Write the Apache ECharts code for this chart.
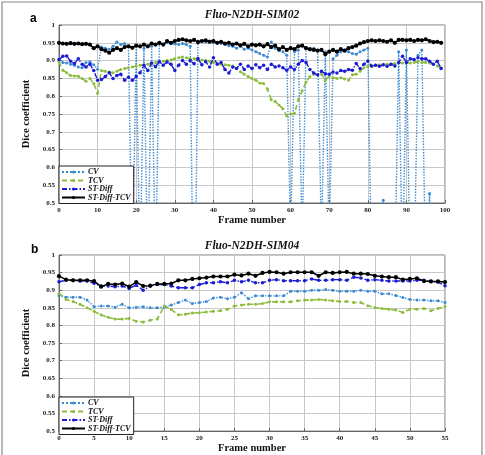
<!DOCTYPE html>
<html>
<head>
<meta charset="utf-8">
<script src="https://cdn.jsdelivr.net/npm/echarts/dist/echarts.min.js"></script>
<style>html,body{margin:0;padding:0;background:#fff}#c{width:485px;height:455px}</style>
</head>
<body>
<div id="c"></div>
<script>
// ---- data (Dice coefficient per frame) ----
const seriesNames = ['CV', 'TCV', 'ST-Diff', 'ST-Diff-TCV'];
const titleA = 'Fluo-N2DH-SIM02';
const titleB = 'Fluo-N2DH-SIM04';
const yTicks = [0.5, 0.55, 0.6, 0.65, 0.7, 0.75, 0.8, 0.85, 0.9, 0.95, 1];

// Panel a : frames 0..99
const cvA = [
 0.900,0.895,0.893,0.890,0.887,0.882,0.880,0.895,0.897,0.888,
 0.876,0.938,0.935,0.932,0.940,0.952,0.945,0.948,0.940,0.300,
 0.942,0.300,0.935,0.300,0.940,0.300,0.948,0.945,0.950,0.948,
 0.947,0.945,0.948,0.945,0.940,0.000,0.955,0.955,0.952,0.955,
 0.950,0.950,0.948,0.945,0.942,0.940,0.935,0.940,0.932,0.935,
 0.930,0.925,0.920,0.915,0.910,0.952,0.935,0.928,0.925,0.915,
 0.400,0.925,0.930,0.400,0.935,0.930,0.935,0.928,0.400,0.925,
 0.400,0.905,0.915,0.925,0.930,0.925,0.920,0.918,0.925,0.930,
 0.935,0.300,0.200,0.300,0.508,0.200,0.200,0.300,0.925,0.300,
 0.930,0.300,0.300,0.915,0.930,0.300,0.527,0.300,0.300,0.300];
const tcvA = [
 0.897,0.873,0.866,0.858,0.857,0.856,0.850,0.842,0.850,0.836,
 0.808,0.872,0.870,0.868,0.866,0.870,0.875,0.878,0.880,0.882,
 0.885,0.887,0.888,0.890,0.892,0.895,0.897,0.898,0.900,0.902,
 0.905,0.908,0.910,0.908,0.905,0.906,0.903,0.902,0.900,0.898,
 0.895,0.892,0.890,0.888,0.887,0.885,0.878,0.869,0.862,0.855,
 0.850,0.845,0.837,0.836,0.820,0.790,0.785,0.775,0.765,0.745,
 0.750,0.752,0.790,0.815,0.840,0.855,0.862,0.860,0.862,0.845,
 0.855,0.852,0.850,0.852,0.848,0.845,0.860,0.862,0.870,0.880,
 0.885,0.885,0.887,0.888,0.888,0.890,0.890,0.892,0.895,0.893,
 0.895,0.893,0.895,0.897,0.895,0.895,0.893,0.890,0.885,0.880];
const stA = [
 0.903,0.912,0.913,0.898,0.892,0.905,0.890,0.882,0.890,0.872,
 0.845,0.847,0.855,0.866,0.850,0.858,0.862,0.845,0.853,0.845,
 0.855,0.866,0.887,0.872,0.893,0.883,0.897,0.887,0.896,0.890,
 0.872,0.887,0.900,0.890,0.900,0.891,0.906,0.888,0.897,0.882,
 0.908,0.890,0.895,0.875,0.865,0.882,0.878,0.890,0.875,0.885,
 0.878,0.888,0.880,0.887,0.875,0.890,0.882,0.885,0.880,0.873,
 0.882,0.875,0.890,0.900,0.895,0.875,0.865,0.860,0.870,0.863,
 0.862,0.868,0.865,0.872,0.870,0.875,0.873,0.892,0.878,0.890,
 0.898,0.885,0.887,0.884,0.888,0.884,0.890,0.885,0.895,0.912,
 0.895,0.905,0.903,0.908,0.905,0.905,0.898,0.890,0.898,0.878];
const sttA = [
 0.950,0.948,0.947,0.949,0.947,0.948,0.946,0.947,0.945,0.935,
 0.940,0.932,0.928,0.922,0.930,0.935,0.930,0.938,0.940,0.936,
 0.942,0.940,0.945,0.940,0.948,0.945,0.950,0.945,0.955,0.950,
 0.955,0.958,0.960,0.957,0.955,0.958,0.952,0.955,0.957,0.953,
 0.955,0.950,0.953,0.948,0.950,0.945,0.948,0.943,0.947,0.940,
 0.945,0.943,0.945,0.940,0.946,0.938,0.942,0.932,0.938,0.930,
 0.935,0.932,0.940,0.942,0.935,0.932,0.930,0.928,0.930,0.918,
 0.925,0.930,0.925,0.932,0.928,0.935,0.938,0.942,0.948,0.952,
 0.955,0.957,0.955,0.957,0.955,0.953,0.957,0.950,0.958,0.958,
 0.957,0.958,0.955,0.958,0.957,0.960,0.955,0.952,0.953,0.950];
const xTicksA = [0,10,20,30,40,50,60,70,80,90,100];

// Panel b : frames 0..55
const cvB = [
 0.885,0.880,0.880,0.880,0.872,0.853,0.855,0.855,0.852,0.860,
 0.850,0.852,0.853,0.850,0.850,0.852,0.858,0.865,0.872,0.862,
 0.865,0.868,0.878,0.880,0.876,0.880,0.893,0.876,0.884,0.884,
 0.884,0.884,0.884,0.897,0.897,0.897,0.900,0.900,0.902,0.900,
 0.897,0.897,0.897,0.900,0.897,0.897,0.890,0.890,0.885,0.879,
 0.874,0.872,0.872,0.870,0.870,0.865];
const tcvB = [
 0.891,0.874,0.868,0.860,0.850,0.840,0.830,0.823,0.818,0.818,
 0.820,0.812,0.810,0.815,0.818,0.855,0.845,0.830,0.832,0.835,
 0.836,0.838,0.840,0.842,0.846,0.855,0.858,0.860,0.860,0.862,
 0.867,0.867,0.867,0.867,0.870,0.872,0.872,0.874,0.872,0.870,
 0.868,0.868,0.865,0.865,0.856,0.851,0.848,0.846,0.844,0.837,
 0.846,0.846,0.848,0.842,0.848,0.854];
const stB = [
 0.924,0.928,0.928,0.926,0.926,0.920,0.912,0.912,0.910,0.912,
 0.905,0.914,0.900,0.912,0.916,0.916,0.912,0.907,0.907,0.907,
 0.916,0.921,0.921,0.924,0.921,0.928,0.924,0.928,0.921,0.921,
 0.928,0.930,0.927,0.927,0.927,0.927,0.932,0.928,0.928,0.930,
 0.930,0.928,0.937,0.935,0.928,0.930,0.928,0.926,0.926,0.926,
 0.926,0.928,0.928,0.925,0.923,0.913];
const sttB = [
 0.940,0.930,0.928,0.928,0.928,0.926,0.910,0.918,0.916,0.919,
 0.910,0.923,0.912,0.913,0.918,0.918,0.919,0.928,0.928,0.932,
 0.934,0.936,0.939,0.939,0.939,0.944,0.942,0.947,0.941,0.949,
 0.952,0.951,0.947,0.951,0.951,0.951,0.951,0.941,0.951,0.949,
 0.951,0.952,0.947,0.947,0.946,0.941,0.939,0.937,0.937,0.930,
 0.932,0.934,0.926,0.925,0.925,0.923];
const xTicksB = [0,5,10,15,20,25,30,35,40,45,50,55];

// ---- styles ----
const SERIF = '"Liberation Serif", "Times New Roman", serif';
const styles = [
  {color:'#3a8ad4', type:'dotted', width:1.4, symbol:'circle', size:3},
  {color:'#8dbd3e', type:[5,3], width:1.6, symbol:'circle', size:3},
  {color:'#1c1cd6', type:[5,2,1.5,2], width:1.4, symbol:'circle', size:3.5},
  {color:'#000000', type:'solid', width:1.5, symbol:'circle', size:4.2}
];

function pairs(arr){ return arr.map((v,i)=>[i,v]); }

function mkSeries(arrs, idx){
  return arrs.map((arr,k)=>({
    name: seriesNames[k], type:'line', xAxisIndex: idx, yAxisIndex: idx,
    data: pairs(arr), clip: true,
    symbol: styles[k].symbol, symbolSize: styles[k].size, showSymbol: true,
    lineStyle: {color: styles[k].color, type: styles[k].type, width: styles[k].width},
    itemStyle: {color: styles[k].color},
    emphasis: {disabled: true}, animation: false, z: 2 + k
  }));
}

function xAx(idx, max, interval){
  return {
    type:'value', gridIndex: idx, min:0, max:max, interval:interval,
    name:'Frame number', nameLocation:'middle', nameGap:9,
    nameTextStyle:{fontFamily:SERIF, fontWeight:'bold', fontSize:10.5, color:'#111'},
    axisLine:{show:true, lineStyle:{color:'#666', width:1}},
    axisTick:{show:true, inside:true, length:3, lineStyle:{color:'#666'}},
    axisLabel:{fontFamily:SERIF, fontWeight:'bold', fontSize:7, color:'#222', margin:4},
    splitLine:{show:true, lineStyle:{color:'#c8c8c8', width:1}}
  };
}
function yAx(idx){
  return {
    type:'value', gridIndex: idx, min:yTicks[0], max:yTicks[yTicks.length-1], interval:0.05,
    name:'Dice coefficient', nameLocation:'middle', nameGap:17,
    nameTextStyle:{fontFamily:SERIF, fontWeight:'bold', fontSize:10.5, color:'#111'},
    axisLine:{show:true, lineStyle:{color:'#666', width:1}},
    axisTick:{show:true, inside:true, length:3, lineStyle:{color:'#666'}},
    axisLabel:{fontFamily:SERIF, fontWeight:'bold', fontSize:7, color:'#222', margin:4,
      formatter: v => String(+v.toFixed(2))},
    splitLine:{show:true, lineStyle:{color:'#c8c8c8', width:1}}
  };
}
function legendAt(top){
  return {
    data: seriesNames, orient:'vertical', left:59, top:top,
    backgroundColor:'#fff', borderColor:'#222', borderWidth:1, borderRadius:0,
    padding:[2,3,2,2], itemGap:0.5, itemWidth:23, itemHeight:4,
    textStyle:{fontFamily:SERIF, fontWeight:'bold', fontStyle:'italic', fontSize:8, lineHeight:8,
      color:'#111', padding:[0,0,0,-2]},
    selectedMode:false, z:10
  };
}

const chart = echarts.init(document.getElementById('c'), null, {renderer:'canvas'});
chart.setOption({
  animation:false,
  backgroundColor:'#fff',
  title:[
    {text:titleA, left:252, top:9, padding:0, textAlign:'center',
     textStyle:{fontFamily:SERIF, fontWeight:'bold', fontStyle:'italic', fontSize:11.5, color:'#111'}},
    {text:titleB, left:252, top:240, padding:0, textAlign:'center',
     textStyle:{fontFamily:SERIF, fontWeight:'bold', fontStyle:'italic', fontSize:11.5, color:'#111'}},
    {text:'a', left:30, top:13, padding:0,
     textStyle:{fontFamily:'"Liberation Sans", Arial, sans-serif', fontWeight:'bold', fontSize:12, color:'#000'}},
    {text:'b', left:31, top:244, padding:0,
     textStyle:{fontFamily:'"Liberation Sans", Arial, sans-serif', fontWeight:'bold', fontSize:12, color:'#000'}}
  ],
  grid:[
    {left:59, top:25, width:386, height:178, show:true, borderColor:'#777', borderWidth:1, backgroundColor:'#fff'},
    {left:59, top:255, width:386, height:179, show:true, borderColor:'#777', borderWidth:1, backgroundColor:'#fff'}
  ],
  xAxis:[ xAx(0, xTicksA[xTicksA.length-1], xTicksA[1]-xTicksA[0]), xAx(1, xTicksB[xTicksB.length-1], xTicksB[1]-xTicksB[0]) ],
  yAxis:[ yAx(0), yAx(1) ],
  legend:[ legendAt(166), legendAt(397) ],
  graphic:[
    {type:'rect', shape:{x:2, y:2, width:480, height:470}, style:{fill:'none', stroke:'#8a8a8a', lineWidth:1.2}, silent:true, z:-1}
  ],
  series: mkSeries([cvA,tcvA,stA,sttA],0).concat(mkSeries([cvB,tcvB,stB,sttB],1))
});
</script>
</body>
</html>
